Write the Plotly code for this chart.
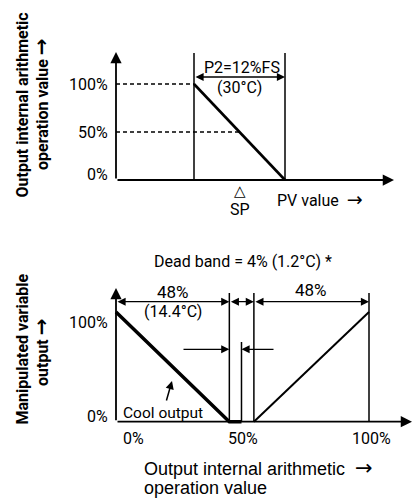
import plotly.graph_objects as go

# ---------------- data ----------------
# Top chart: PV value axis in %FS relative to SP
band_edges = [-6, 6]            # P2 = 12 %FS band, centred on SP
band_output = [100, 0]          # output internal arithmetic value (%)
ref_levels = [100, 50]          # dashed reference levels (%)
ref_level_x = [-6, 0]           # where each dashed line meets the response
sp_value = 0
top_ytick_vals = [100, 50, 0]
top_ytick_text = ["100%", "50%", "0%"]

# Bottom chart: output internal arithmetic value (%) -> manipulated variable (%)
cool_x = [0, 44.8, 49.6]
cool_y = [100, 0, 0]
heat_x = [54.5, 100]
heat_y = [0, 100]
boundary_x = [44.8, 54.5, 100]  # full-height boundary lines
deadband_inner_x = 49.6
bot_xtick_vals = [0, 50, 100]
bot_xtick_text = ["0%", "50%", "100%"]
bot_ytick_vals = [100, 0]
bot_ytick_text = ["100%", "0%"]

# ---------------- layout constants (pixels) ----------------
W, H = 414, 499
NARROW = "Roboto, Liberation Sans, sans-serif"
REG = "Liberation Sans, Arial, sans-serif"
BLK = "#000000"


def arr(size):
    return f'<span style="font-family:DejaVu Sans;font-size:{size}px">→</span>'


# top plot: origin / scale in pixels
t_ox, t_oy = 116, 180          # axis origin (pixel)
t_tipx, t_tipy = 394, 52       # arrow tips
t_sp_px = 239.5
t_xpx = 7.583                  # px per %FS
t_ypx = 0.96                   # px per %
t_dom_y = (0, 240)             # pixel rows covered by the top subplot


def tx(px):
    return (px - t_sp_px) / t_xpx


def ty(py):
    return (t_oy - py) / t_ypx


# bottom plot
b_ox, b_oy = 116, 421.7
b_tipx, b_tipy = 412, 288
b_xpx = 2.53
b_ypx = 1.097
b_dom_y = (245, 499)


def bx(px):
    return (px - b_ox) / b_xpx


def by(py):
    return (b_oy - py) / b_ypx


fig = go.Figure()

# ---------------- top chart traces ----------------
for lvl, xe in zip(ref_levels, ref_level_x):
    fig.add_trace(go.Scatter(x=[tx(t_ox), xe], y=[lvl, lvl], mode="lines",
                             line=dict(color=BLK, width=1.5, dash="4px,3px"),
                             xaxis="x", yaxis="y", hoverinfo="skip"))
for xb in band_edges:
    fig.add_trace(go.Scatter(x=[xb, xb], y=[0, ty(53)], mode="lines",
                             line=dict(color=BLK, width=1.5),
                             xaxis="x", yaxis="y", hoverinfo="skip"))
fig.add_trace(go.Scatter(x=band_edges, y=band_output, mode="lines",
                         line=dict(color=BLK, width=2.6),
                         xaxis="x", yaxis="y", hoverinfo="skip"))

# ---------------- bottom chart traces ----------------
for xb in boundary_x:
    fig.add_trace(go.Scatter(x=[xb, xb], y=[0, by(293)], mode="lines",
                             line=dict(color=BLK, width=1.5),
                             xaxis="x2", yaxis="y2", hoverinfo="skip"))
fig.add_trace(go.Scatter(x=[deadband_inner_x, deadband_inner_x], y=[0, by(342)],
                         mode="lines", line=dict(color=BLK, width=1.5),
                         xaxis="x2", yaxis="y2", hoverinfo="skip"))
fig.add_trace(go.Scatter(x=cool_x, y=cool_y, mode="lines",
                         line=dict(color=BLK, width=3.5),
                         xaxis="x2", yaxis="y2", hoverinfo="skip"))
fig.add_trace(go.Scatter(x=heat_x, y=heat_y, mode="lines",
                         line=dict(color=BLK, width=2),
                         xaxis="x2", yaxis="y2", hoverinfo="skip"))

ann = []


def arrow(x, y, ax, ay, xr, yr, both=False, width=1.3, size=1.25):
    ann.append(dict(x=x, y=y, ax=ax, ay=ay, xref=xr, yref=yr, axref=xr, ayref=yr,
                    text="", showarrow=True, arrowhead=2, arrowsize=size,
                    arrowwidth=width, arrowcolor=BLK,
                    arrowside="end+start" if both else "end",
                    standoff=0, startstandoff=0))


def text(x, y, s, xr, yr, size=16, family=NARROW, xanchor="center", yanchor="middle",
         angle=0, xshift=0, yshift=0, bold=False):
    ann.append(dict(x=x, y=y, xref=xr, yref=yr, text=(f"<b>{s}</b>" if bold else s),
                    showarrow=False, font=dict(family=family, size=size, color=BLK),
                    xanchor=xanchor, yanchor=yanchor, textangle=angle,
                    xshift=xshift, yshift=yshift))


# axes (top)
arrow(tx(t_ox), ty(t_tipy), tx(t_ox), 0, "x", "y", width=1.8)
arrow(tx(t_tipx), 0, tx(t_ox), 0, "x", "y", width=1.8)
# P2 dimension
arrow(band_edges[1], ty(77), band_edges[0], ty(77), "x", "y", both=True)
text(sp_value, ty(67), "P2=12%FS", "x", "y", xshift=2)
text(sp_value, ty(87), "(30°C)", "x", "y")
text(sp_value, ty(191), "△", "x", "y", size=15, family="DejaVu Sans")
text(sp_value, ty(209), "SP", "x", "y")
text(tx(275), ty(199), "PV value  " + arr(19), "x", "y", xanchor="left")
top_tick_shift = [0, 0, 6]
for v, s, sh in zip(top_ytick_vals, top_ytick_text, top_tick_shift):
    text(110 / W, v, s, "paper", "y", xanchor="right", yshift=sh)

# axes (bottom)
arrow(0, by(b_tipy), 0, 0, "x2", "y2", width=1.8)
arrow(bx(b_tipx), 0, 0, 0, "x2", "y2", width=1.8)
row1 = by(301.7)
arrow(cool_x[1], row1, cool_x[0], row1, "x2", "y2", both=True)
arrow(heat_x[0], row1, cool_x[1], row1, "x2", "y2", both=True)
arrow(heat_x[1], row1, heat_x[0], row1, "x2", "y2", both=True)
row2 = by(349.3)
arrow(cool_x[1], row2, bx(182), row2, "x2", "y2")
arrow(deadband_inner_x, row2, bx(275), row2, "x2", "y2")

text(bx(242.5), by(261), "Dead band = 4% (1.2°C) *", "x2", "y2")
text((cool_x[0] + cool_x[1]) / 2, by(291.5), "48%", "x2", "y2", size=17)
text((cool_x[0] + cool_x[1]) / 2, by(311.5), "(14.4°C)", "x2", "y2")
text((heat_x[0] + heat_x[1]) / 2, by(290), "48%", "x2", "y2", size=17)
text(bx(163), by(413), "Cool output", "x2", "y2", size=15.5)
arrow(bx(172), by(381), bx(166), by(402), "x2", "y2", width=1.5, size=1.1)

bot_xtick_shift = [17, 0, 2]
for v, s, sh in zip(bot_xtick_vals, bot_xtick_text, bot_xtick_shift):
    text(v, by(438), s, "x2", "y2", xshift=sh)
bot_ytick_shift = [-10, 5]
for v, s, sh in zip(bot_ytick_vals, bot_ytick_text, bot_ytick_shift):
    text(110 / W, v, s, "paper", "y2", xanchor="right", yshift=sh)

# axis titles
text(21.5 / W, 1 - 105 / H, "Output internal arithmetic", "paper", "paper", size=16, angle=-90, bold=True)
text(41 / W, 1 - 104 / H, "operation value " + arr(20), "paper", "paper", size=16, angle=-90, bold=True)
text(21.5 / W, 1 - 349 / H, "Manipulated variable", "paper", "paper", size=16, angle=-90, bold=True)
text(41 / W, 1 - 352 / H, "output " + arr(20), "paper", "paper", size=16, angle=-90, bold=True)
text(142 / W, 1 - 468 / H, "Output internal arithmetic  " + arr(21), "paper", "paper", size=18,
     family=REG, xanchor="left")
text(142 / W, 1 - 488 / H, "operation value", "paper", "paper", size=18,
     family=REG, xanchor="left")

ax_common = dict(visible=False, showgrid=False, zeroline=False, fixedrange=True)
fig.update_layout(
    width=W, height=H, margin=dict(l=0, r=0, t=0, b=0),
    paper_bgcolor="white", plot_bgcolor="rgba(0,0,0,0)", showlegend=False,
    xaxis=dict(domain=[0, 1], range=[tx(0), tx(W)], anchor="y", **ax_common),
    yaxis=dict(domain=[1 - t_dom_y[1] / H, 1 - t_dom_y[0] / H],
               range=[ty(t_dom_y[1]), ty(t_dom_y[0])], anchor="x", **ax_common),
    xaxis2=dict(domain=[0, 1], range=[bx(0), bx(W)], anchor="y2", **ax_common),
    yaxis2=dict(domain=[1 - b_dom_y[1] / H, 1 - b_dom_y[0] / H],
                range=[by(b_dom_y[1]), by(b_dom_y[0])], anchor="x2", **ax_common),
    annotations=ann,
)
fig.write_html("out.html", config={"displayModeBar": False},
               post_script="document.body.style.margin='0';")
